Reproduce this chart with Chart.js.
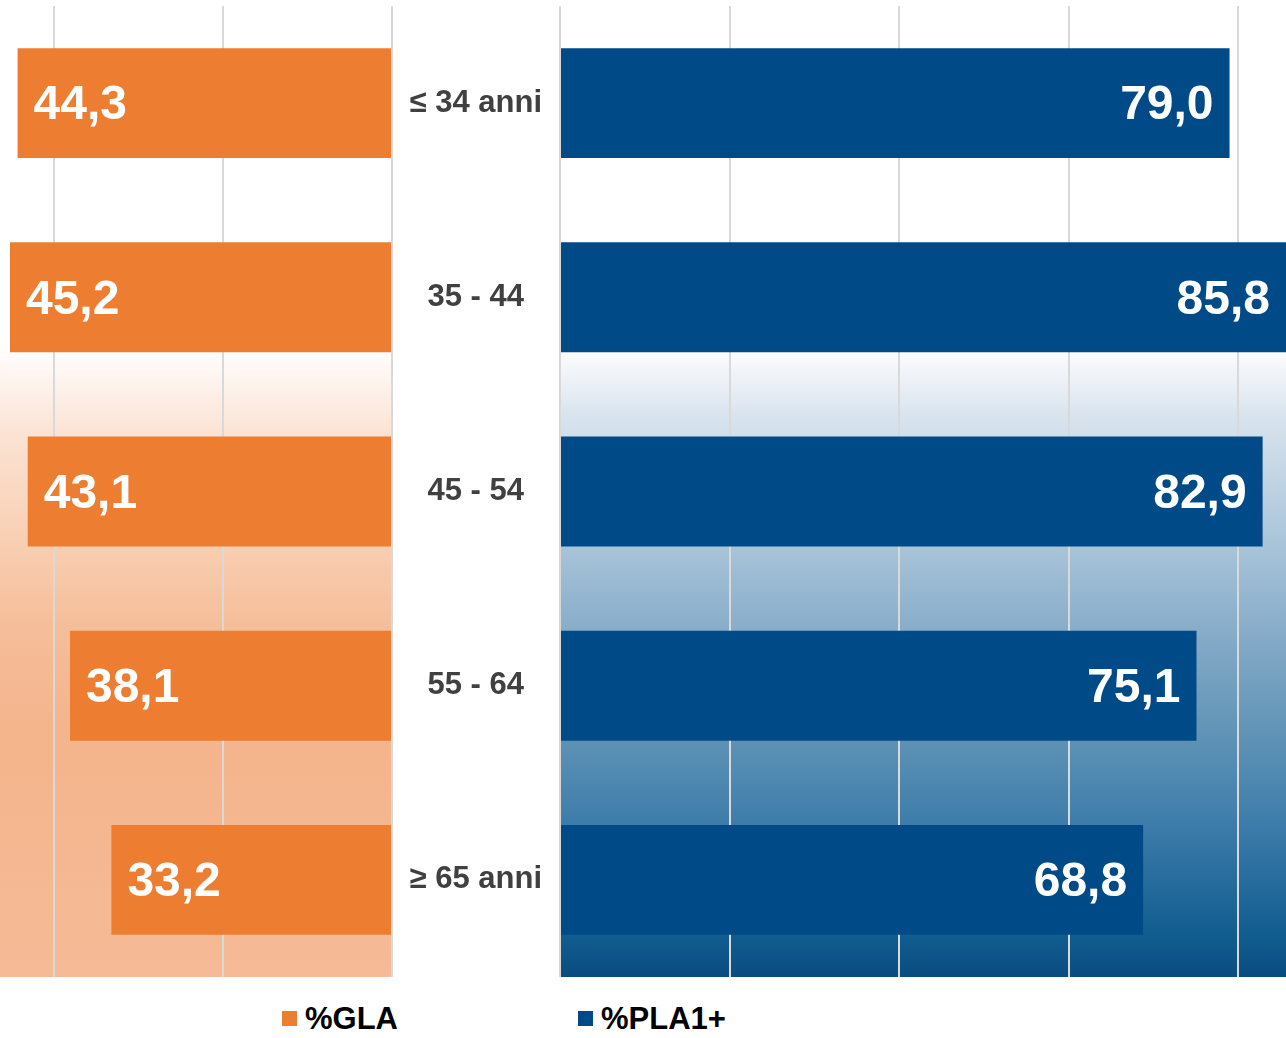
<!DOCTYPE html>
<html lang="it">
<head>
<meta charset="utf-8">
<script src="https://cdn.jsdelivr.net/npm/chart.js@4.4.1/dist/chart.umd.min.js"></script>
<style>
    html, body { margin: 0; padding: 0; background: #ffffff; }
    body { width: 1286px; height: 1038px; position: relative; overflow: hidden;
           font-family: "Liberation Sans", Arial, sans-serif; }
    #left_wrap  { position: absolute; left: 0;     top: 0; width: 393px; height: 980px; }
    #right_wrap { position: absolute; left: 391px; top: 0; width: 895px; height: 980px; }
    .legend { position: absolute; top: 1003px; height: 31px; display: flex; align-items: center;
              font-weight: bold; font-size: 31px; line-height: 31px; color: #000; }
    .legend i { display: inline-block; width: 15px; height: 15px; margin-right: 8px; }
</style>
</head>
<body>
<div id="left_wrap"><canvas id="chart_gla"></canvas></div>
<div id="right_wrap"><canvas id="chart_pla"></canvas></div>
<div class="legend" style="left:282px"><i style="background:#ed7d31"></i>%GLA</div>
<div class="legend" style="left:578px"><i style="background:#004a87"></i>%PLA1+</div>

<script>
// ─── Data ────────────────────────────────────────────────────────────────────
const categories = ["≤ 34 anni", "35 - 44", "45 - 54", "55 - 64", "≥ 65 anni"];
const glaValues  = [44.3, 45.2, 43.1, 38.1, 33.2];
const plaValues  = [79.0, 85.8, 82.9, 75.1, 68.8];
const gridStep   = 20;

// ─── Colours ─────────────────────────────────────────────────────────────────
const ORANGE = "#ed7d31";
const BLUE   = "#004a87";
const GRID   = "#d9d9d9";
const FONT   = '"Liberation Sans", Arial, sans-serif';

const ORANGE_STOPS = [
    [0,     "#ffffff"], [0.35, "#ffffff"], [0.44, "#fbe3d4"], [0.556, "#f8ceb1"],
    [0.643, "#f5bd99"], [0.75, "#f4b48c"], [1, "#f5bb96"],
];
const BLUE_STOPS = [
    [0,     "#ffffff"], [0.35, "#ffffff"], [0.42, "#dae4ee"], [0.556, "#a8c4d9"],
    [0.643, "#88acc9"], [0.756, "#5e92b5"], [0.843, "#3d7caa"], [0.957, "#115d8f"],
    [1, "#0a4c80"],
];

const fmt = v => v.toFixed(1).replace(".", ",");

// ─── Plugins ─────────────────────────────────────────────────────────────────
const panelBackground = {
    id: "panelBackground",
    beforeDraw(chart, args, opts) {
        const { ctx, chartArea: a } = chart;
        const g = ctx.createLinearGradient(0, a.top, 0, a.bottom);
        opts.stops.forEach(([p, c]) => g.addColorStop(p, c));
        ctx.save();
        ctx.fillStyle = g;
        ctx.fillRect(a.left, a.top, a.right - a.left, a.bottom - a.top);
        ctx.restore();
    },
};

// white value inside the outer end of each bar
const valueLabels = {
    id: "valueLabels",
    afterDatasetsDraw(chart, args, opts) {
        const { ctx } = chart;
        const meta = chart.getDatasetMeta(0);
        const data = chart.data.datasets[0].data;
        ctx.save();
        ctx.font = `bold 48px ${FONT}`;
        ctx.fillStyle = "#ffffff";
        ctx.textBaseline = "middle";
        meta.data.forEach((bar, i) => {
            if (opts.side === "left") {
                ctx.textAlign = "left";
                ctx.fillText(fmt(data[i]), bar.x + 16, bar.y + 3);
            } else {
                ctx.textAlign = "right";
                const end = Math.min(bar.x, chart.chartArea.right);
                ctx.fillText(fmt(data[i]), end - 16, bar.y + 3);
            }
        });
        ctx.restore();
    },
};

// gridlines only every 20 points, never at the clipped axis end
const gridEvery = scale => {
    scale.ticks = [];
    for (let v = 0; v <= scale.max; v += gridStep) scale.ticks.push({ value: v });
};

function xScale(max, reverse) {
    return {
        type: "linear",
        min: 0,
        max,
        reverse,
        afterBuildTicks: gridEvery,
        ticks: { display: false },
        grid: { color: GRID, lineWidth: 2, drawTicks: false },
        border: { display: false },
    };
}

// ─── Left chart: %GLA growing leftwards ──────────────────────────────────────
new Chart(document.getElementById("chart_gla"), {
    type: "bar",
    data: {
        labels: categories,
        datasets: [{
            label: "%GLA",
            data: glaValues,
            backgroundColor: ORANGE,
            borderWidth: 0,
            categoryPercentage: 1,
            barPercentage: 0.566,
        }],
    },
    options: {
        indexAxis: "y",
        responsive: true,
        maintainAspectRatio: false,
        animation: false,
        layout: { padding: { top: 6, bottom: 3, left: 0, right: 1 } },
        plugins: {
            legend: { display: false },
            tooltip: { enabled: false },
            panelBackground: { stops: ORANGE_STOPS },
            valueLabels: { side: "left" },
        },
        scales: {
            x: xScale(46.38, true),
            y: { display: false },
        },
    },
    plugins: [panelBackground, valueLabels],
});

// ─── Right chart: %PLA1+ with the age labels as its y axis ───────────────────
new Chart(document.getElementById("chart_pla"), {
    type: "bar",
    data: {
        labels: categories,
        datasets: [{
            label: "%PLA1+",
            data: plaValues,
            backgroundColor: BLUE,
            borderWidth: 0,
            categoryPercentage: 1,
            barPercentage: 0.566,
        }],
    },
    options: {
        indexAxis: "y",
        responsive: true,
        maintainAspectRatio: false,
        animation: false,
        layout: { padding: { top: 6, bottom: 3, left: 0, right: 0 } },
        plugins: {
            legend: { display: false },
            tooltip: { enabled: false },
            panelBackground: { stops: BLUE_STOPS },
            valueLabels: { side: "right" },
        },
        scales: {
            x: xScale(85.66, false),
            y: {
                afterFit: scale => {
                    scale.width = 169;
                    scale.paddingTop = 0;
                    scale.paddingBottom = 0;
                },
                grid: { display: false, drawTicks: false },
                border: { display: false },
                ticks: {
                    crossAlign: "center",
                    padding: 18,
                    color: "#404040",
                    font: { family: FONT, size: 31, weight: "bold" },
                },
            },
        },
    },
    plugins: [panelBackground, valueLabels],
});
</script>
</body>
</html>
